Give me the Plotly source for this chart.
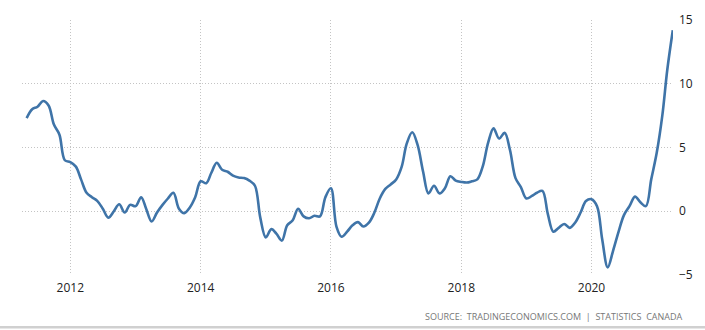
import pandas as pd
import plotly.graph_objects as go

start_month = "2011-05-01"
values = [
    7.3, 8.0, 8.2, 8.65, 8.3, 6.8, 6.0, 4.0,            # May-Dec 2011
    3.85, 3.5, 2.5, 1.45, 1.1, 0.8, 0.2, -0.5, 0.0, 0.55, -0.1, 0.5,  # 2012
    0.4, 1.1, 0.2, -0.8, -0.1, 0.5, 1.0, 1.45, 0.2, -0.15, 0.3, 1.1,  # 2013
    2.35, 2.2, 3.0, 3.8, 3.25, 3.1, 2.8, 2.65, 2.6, 2.4, 2.0, -0.5,   # 2014
    -2.05, -1.4, -1.75, -2.3, -1.1, -0.7, 0.2, -0.4, -0.55, -0.35, -0.4, 1.1,  # 2015
    1.8, -1.2, -2.0, -1.6, -1.1, -0.85, -1.2, -0.9, -0.1, 1.0, 1.75, 2.1,  # 2016
    2.5, 3.5, 5.3, 6.2, 5.2, 3.1, 1.4, 2.0, 1.4, 1.8, 2.75, 2.4,       # 2017
    2.3, 2.25, 2.35, 2.5, 3.5, 5.4, 6.5, 5.7, 6.15, 4.8, 2.6, 1.9,     # 2018
    1.0, 1.2, 1.45, 1.6, -0.2, -1.6, -1.3, -1.0, -1.3, -0.9, -0.1, 0.8,  # 2019
    0.95, 0.4, -2.2, -4.4, -3.1, -1.6, -0.3, 0.4, 1.15, 0.7, 0.4, 2.5,  # 2020
    4.6, 7.5, 11.1, 14.2,                                   # Jan-Apr 2021
]
dates = pd.date_range(start_month, periods=len(values), freq="MS")

y_ticks = [-5, 0, 5, 10, 15]
x_ticks = ["2012-01-01", "2014-01-01", "2016-01-01", "2018-01-01", "2020-01-01"]
x_tick_labels = ["2012", "2014", "2016", "2018", "2020"]
source_text = "SOURCE:  TRADINGECONOMICS.COM  |  STATISTICS  CANADA"

fig = go.Figure()
fig.add_trace(go.Scatter(
    x=dates, y=values, mode="lines",
    line=dict(color="#3f74a8", width=2.6, shape="spline", smoothing=1.0),
    hoverinfo="skip",
))

grid_color = "#c4c4c4"
grid_dash = "1px,2px"
fig.update_layout(
    width=705, height=330,
    margin=dict(l=22, r=32, t=11, b=55),
    paper_bgcolor="white", plot_bgcolor="white",
    showlegend=False,
    font=dict(family="Open Sans, DejaVu Sans, sans-serif", size=12, color="#222"),
    xaxis=dict(
        range=["2011-04-05", "2021-04-02"],
        tickmode="array", tickvals=x_ticks, ticktext=x_tick_labels,
        showgrid=True, gridcolor=grid_color, griddash=grid_dash, gridwidth=1,
        zeroline=False, showline=False, ticks="",
        ticklabelstandoff=4,
        tickfont=dict(size=12, color="#222"),
    ),
    yaxis=dict(
        range=[-5, 15], side="right",
        tickmode="array", tickvals=y_ticks,
        showgrid=True, gridcolor=grid_color, griddash=grid_dash, gridwidth=1,
        zeroline=False, showline=False, ticks="",
        ticklabelstandoff=5,
        tickfont=dict(size=12, color="#222"),
    ),
    annotations=[dict(
        text=source_text, xref="paper", yref="paper",
        x=1.018, y=-0.163, xanchor="right", yanchor="middle",
        showarrow=False, font=dict(size=9, color="#777"),
    )],
    shapes=[dict(
        type="rect", xref="paper", yref="paper",
        x0=-0.04, x1=1.06, y0=-0.21, y1=-0.2,
        fillcolor="#d0d0d0", line=dict(width=0), layer="below",
    )],
)

fig.write_html("out.html")
